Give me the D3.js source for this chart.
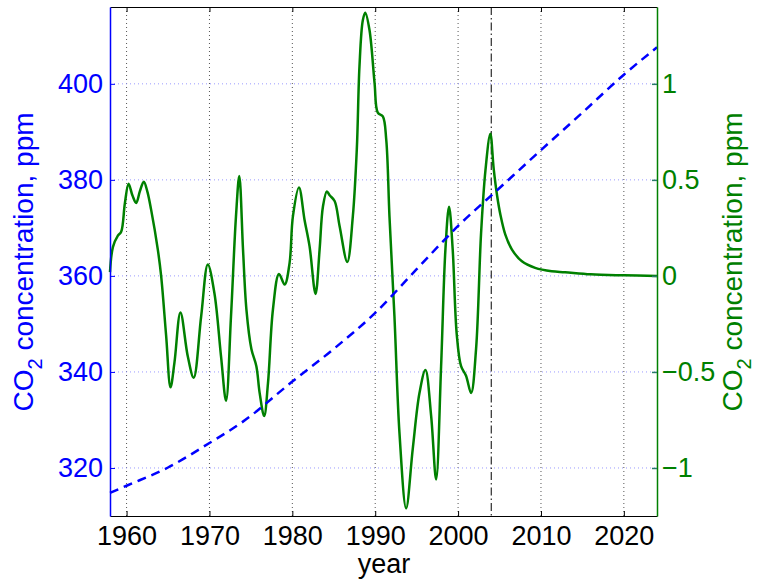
<!DOCTYPE html>
<html>
<head>
<meta charset="utf-8">
<script src="https://cdn.jsdelivr.net/npm/d3@7/dist/d3.min.js"></script>
<style>
  html, body { margin: 0; padding: 0; background: #fff; }
  svg { display: block; font-family: "Liberation Sans", Arial, sans-serif; }
</style>
</head>
<body>
<svg id="chart" width="757" height="579"></svg>
<script>
// ---- data ----
const xTicks = [1960, 1970, 1980, 1990, 2000, 2010, 2020];
const leftTicks = [320, 340, 360, 380, 400];
const rightTicks = [-1, -0.5, 0, 0.5, 1];
const rightTickLabels = ["\u22121", "\u22120.5", "0", "0.5", "1"];
const markerYear = 2004;

// CO2 concentration (left axis, blue dashed)
const co2Years = [1958, 1960, 1965, 1970, 1974, 1980, 1985, 1990, 1995, 2000, 2005, 2010, 2015, 2020, 2024];
const co2Values = [314.8, 316.3, 320.1, 325.2, 329.6, 338.0, 344.8, 352.3, 361.4, 370.4, 378.3, 386.2, 394.0, 401.9, 407.6];

// CO2 anomaly (right axis, green)
const anomYears = [1958.0, 1958.35, 1958.95, 1959.35, 1959.8, 1960.24, 1960.7, 1961.16, 1961.6, 1962.08, 1962.5, 1962.96,
  1963.77, 1964.17, 1964.77, 1965.3, 1965.78, 1966.5, 1967.39, 1968.1, 1969.0, 1969.8, 1970.6, 1971.4, 1972.0,
  1972.6, 1973.2, 1973.6, 1974.05, 1974.46, 1975.06, 1975.66, 1976.06, 1976.6, 1977.06, 1977.66, 1978.39,
  1979.07, 1979.67, 1980.07, 1980.8, 1981.48, 1982.08, 1982.8, 1983.29, 1983.69, 1984.17, 1984.5, 1985.1,
  1985.7, 1986.63, 1987.3, 1987.78, 1988.1, 1988.5, 1988.8, 1989.31, 1989.92, 1990.31, 1990.92, 1991.33,
  1991.72, 1992.32, 1992.93, 1993.73, 1994.53, 1995.34, 1996.06, 1996.75, 1997.35, 1997.95, 1998.47, 1998.91,
  1999.35, 1999.83, 2000.36, 2000.96, 2001.57, 2002.17, 2002.77, 2003.3, 2003.89, 2004.29, 2004.7, 2005.1,
  2005.7, 2006.5, 2007.7, 2009.3, 2011.3, 2012.9, 2016.0, 2020.0, 2024.0];
const anomValues = [0.02, 0.15, 0.21, 0.23, 0.38, 0.48, 0.42, 0.38, 0.44, 0.49, 0.44, 0.345,
  0.137, 0.0, -0.31, -0.58, -0.45, -0.19, -0.42, -0.53, -0.21, 0.06, -0.09, -0.42, -0.65,
  -0.21, 0.31, 0.52, 0.137, -0.175, -0.38, -0.47, -0.61, -0.73, -0.56, -0.175, 0.01,
  -0.045, 0.068, 0.31, 0.46, 0.29, 0.154, -0.094, 0.137, 0.36, 0.44, 0.42, 0.39,
  0.26, 0.073, 0.31, 0.66, 1.09, 1.33, 1.37, 1.28, 1.005, 0.85, 0.83, 0.71,
  0.31, -0.21, -0.82, -1.21, -0.9, -0.61, -0.49, -0.73, -1.06, -0.47, 0.137, 0.36,
  0.137, -0.3, -0.47, -0.52, -0.61, -0.38, 0.22, 0.55, 0.74, 0.56, 0.42, 0.32,
  0.215, 0.137, 0.076, 0.042, 0.024, 0.019, 0.008, 0.003, 0.0];

// ---- layout ----
const svg = d3.select("#chart");
const L = 110, R = 657, T = 7, B = 516;
const BLUE = "#0000ff", GREEN = "#008000";
const FS = 27;

const x = d3.scaleLinear().domain([1958, 2024]).range([L, R]);
const yL = d3.scaleLinear().domain([310, 416]).range([B, T]);
const yR = d3.scaleLinear().domain([-1.25, 1.4]).range([B, T]);

// grid
const grid = svg.append("g");
grid.selectAll("line.xg").data(xTicks).join("line")
  .attr("x1", d => x(d)).attr("x2", d => x(d)).attr("y1", T).attr("y2", B)
  .attr("stroke", "#555").attr("stroke-width", 1).attr("stroke-dasharray", "1,3");
grid.selectAll("line.yg").data(leftTicks).join("line")
  .attr("x1", L).attr("x2", R).attr("y1", d => yL(d)).attr("y2", d => yL(d))
  .attr("stroke", "#9a9aff").attr("stroke-width", 1).attr("stroke-dasharray", "1,3");

// vertical marker line
svg.append("line")
  .attr("x1", x(markerYear)).attr("x2", x(markerYear)).attr("y1", T).attr("y2", B)
  .attr("stroke", "#000").attr("stroke-width", 1).attr("stroke-dasharray", "8,3,1.5,3");

// green anomaly line
const anom = anomYears.map((y, i) => [y, anomValues[i]]);
svg.append("path").datum(anom)
  .attr("fill", "none").attr("stroke", GREEN).attr("stroke-width", 2.5)
  .attr("stroke-linejoin", "round")
  .attr("d", d3.line().x(d => x(d[0])).y(d => yR(d[1])).curve(d3.curveCatmullRom.alpha(0.5)));

// blue dashed CO2 line
const co2 = co2Years.map((y, i) => [y, co2Values[i]]);
svg.append("path").datum(co2)
  .attr("fill", "none").attr("stroke", BLUE).attr("stroke-width", 2.5)
  .attr("stroke-dasharray", "9,6")
  .attr("d", d3.line().x(d => x(d[0])).y(d => yL(d[1])).curve(d3.curveMonotoneX));

// axes
const axB = svg.append("g").attr("transform", `translate(0,${B})`)
  .call(d3.axisBottom(x).tickValues(xTicks).tickFormat(d3.format("d")).tickSizeInner(-5).tickSizeOuter(0).tickPadding(10));
axB.select(".domain").attr("stroke", "#000").attr("stroke-width", 1.2);
axB.selectAll(".tick line").attr("stroke", "#000");
axB.selectAll(".tick text").attr("font-size", FS).attr("font-family", "Liberation Sans, Arial, sans-serif").attr("fill", "#000");

const axT = svg.append("g").attr("transform", `translate(0,${T})`)
  .call(d3.axisTop(x).tickValues(xTicks).tickFormat("").tickSizeInner(-5).tickSizeOuter(0));
axT.select(".domain").attr("stroke", "#000").attr("stroke-width", 1.2);
axT.selectAll(".tick line").attr("stroke", "#000");

const axL = svg.append("g").attr("transform", `translate(${L},0)`)
  .call(d3.axisLeft(yL).tickValues(leftTicks).tickFormat(d3.format("d")).tickSizeInner(-5).tickSizeOuter(0).tickPadding(7));
axL.select(".domain").attr("stroke", BLUE).attr("stroke-width", 1.5);
axL.selectAll(".tick line").attr("stroke", BLUE);
axL.selectAll(".tick text").attr("font-size", FS).attr("font-family", "Liberation Sans, Arial, sans-serif").attr("fill", BLUE);

const axR = svg.append("g").attr("transform", `translate(${R},0)`)
  .call(d3.axisRight(yR).tickValues(rightTicks).tickFormat((d, i) => rightTickLabels[i]).tickSizeInner(-5).tickSizeOuter(0).tickPadding(5));
axR.select(".domain").attr("stroke", GREEN).attr("stroke-width", 1.5);
axR.selectAll(".tick line").attr("stroke", "#2a7a6a").attr("stroke-width", 1.5);
axR.selectAll(".tick text").attr("font-size", FS).attr("font-family", "Liberation Sans, Arial, sans-serif").attr("fill", GREEN);

// axis titles
svg.append("text").attr("x", 384).attr("y", 573).attr("text-anchor", "middle")
  .attr("font-size", FS).attr("fill", "#000").text("year");

function yTitle(cx, color) {
  const t = svg.append("text")
    .attr("transform", `translate(${cx},262) rotate(-90)`)
    .attr("text-anchor", "middle").attr("font-size", 28).attr("fill", color);
  t.append("tspan").text("CO");
  t.append("tspan").attr("font-size", 20).attr("dy", 9).text("2");
  t.append("tspan").attr("dy", -9).text(" concentration, ppm");
}
yTitle(33, BLUE);
yTitle(742, GREEN);
</script>
</body>
</html>
